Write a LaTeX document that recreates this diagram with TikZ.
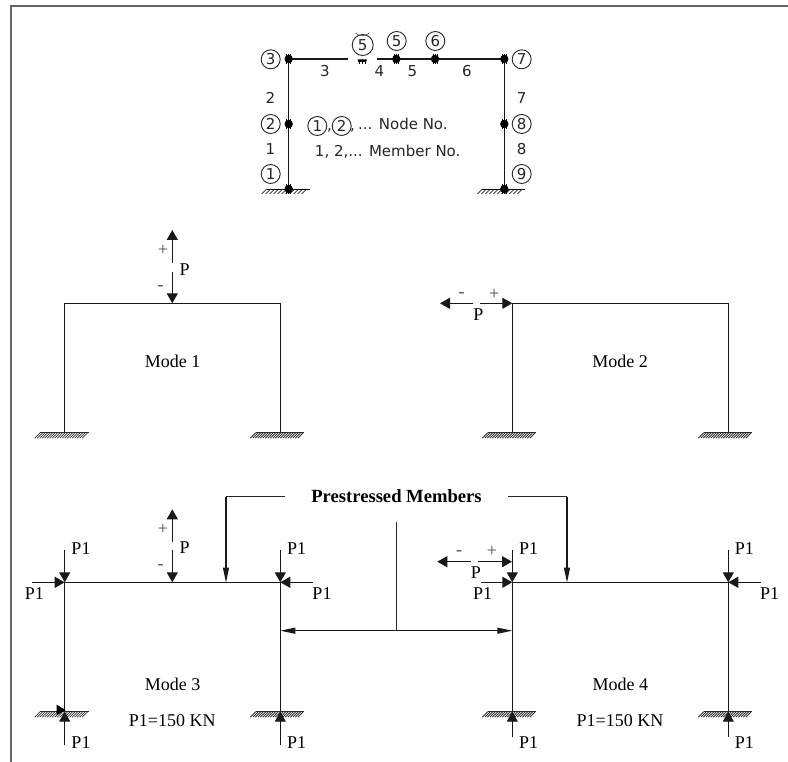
\documentclass[tikz,border=0pt]{standalone}
\usepackage{fontspec}
\setmainfont{Liberation Serif}
\newfontfamily\vfont{DejaVu Sans}
\usetikzlibrary{arrows.meta,calc}
\tikzset{
  member/.style={line width=1.2pt,black!90},
  border/.style={line width=1.6pt,black!60},
  force/.style={line width=1.2pt,black!90,-{Triangle[length=10pt,width=11pt]}},
  lead/.style={line width=1.1pt,black!85},
  thinarrow/.style={line width=1.1pt,black!90,-{Triangle[length=15pt,width=6pt]}},
  serif/.style={inner sep=0pt,font=\fontsize{18}{20}\selectfont},
  signlbl/.style={inner sep=0pt,font=\fontsize{18}{20}\selectfont,black!70},
  sans/.style={inner sep=0pt,font=\vfont\fontsize{15}{17}\selectfont,black!85},
  circ/.style={draw,circle,line width=.9pt,black!85,minimum size=19pt,inner sep=0pt,font=\vfont\fontsize{15}{17}\selectfont},
  jointdot/.style={fill=black,draw=none,circle,minimum size=8.4pt,inner sep=0pt}
}
% dense ground hatch below a column foot
\newcommand{\denseground}[1]{%
  \begin{scope}[shift={(#1)}]
    \draw[line width=.9pt,black!85] (-24.5,0) -- (24,0);
    \foreach \d in {-24.5,-22,...,24}{\draw[line width=.8pt,black!80] (\d,0) -- (\d-5.5,5.5);}
  \end{scope}}
% sparse ground hatch for the numbered frame
\newcommand{\sparseground}[1]{%
  \begin{scope}[shift={(#1)}]
    \draw[line width=.9pt] (-22,0) -- (21,0);
    \foreach \d in {-22,-18,...,21}{\draw[line width=.7pt,black!85] (\d,0) -- (\d-5,5);}
  \end{scope}}
% portal frame: name, left x, right x, top y, bottom y
\newcommand{\portal}[5]{%
  \coordinate (#1tl) at (#2,#4);
  \coordinate (#1tr) at (#3,#4);
  \coordinate (#1bl) at (#2,#5);
  \coordinate (#1br) at (#3,#5);
  \draw[member] (#1bl) -- (#1tl) -- (#1tr) -- (#1br);
  \denseground{#1bl}
  \denseground{#1br}}
% prestress forces: frame name, left and right reach, lower reach
\newcommand{\prestress}[4]{%
  \coordinate (#1a) at ($(#1tl)+(0,-32.3)$);
  \coordinate (#1b) at ($(#1tr)+(0,-32.3)$);
  \coordinate (#1c) at ($(#1tl)+(#2,0)$);
  \coordinate (#1d) at ($(#1tr)+(#3,0)$);
  \coordinate (#1e) at ($(#1bl)+(0,#4)$);
  \coordinate (#1f) at ($(#1br)+(0,#4)$);
  \draw[force] (#1a) -- (#1tl);
  \draw[force] (#1b) -- (#1tr);
  \draw[force] (#1c) -- (#1tl);
  \draw[force] (#1d) -- (#1tr);
  \draw[force] (#1e) -- (#1bl);
  \draw[force] (#1f) -- (#1br);}
\begin{document}
\begin{tikzpicture}[x=1pt,y=-1pt]
\useasboundingbox (0,0) rectangle (788,762);
\fill[white] (0,0) rectangle (788,762);
% border
\coordinate (bA) at (11,762);
\coordinate (bB) at (11,6);
\coordinate (bC) at (788,6);
\draw[border] (bA) -- (bB) -- (bC);

% ===== numbered frame =====
\coordinate (n1) at (288.7,189);
\coordinate (n2) at (288.7,124);
\coordinate (n3) at (288.7,59);
\coordinate (n4a) at (348,59);
\coordinate (n4b) at (377,59);
\coordinate (n5) at (396.3,59);
\coordinate (n6) at (435,59);
\coordinate (n7) at (504.3,59);
\coordinate (n8) at (504.3,124);
\coordinate (n9) at (504.3,189);
\draw[member] (n1) -- (n2) -- (n3) -- (n4a);
\draw[member] (n4b) -- (n5) -- (n6) -- (n7) -- (n8) -- (n9);
\sparseground{n1}
\sparseground{n9}
\foreach \p in {n1,n2,n3,n5,n6,n7,n8,n9}{
  \node[jointdot] at (\p) {};
  \foreach \d in {-2,0,2}{
    \draw[line width=.5pt] ($(\p)+(\d,-5)$) -- ($(\p)+(\d,5)$);}
}
% cut-off joint
\fill (357.5,59.5) -- (367,59.5) -- (366,62) -- (358.5,62) -- cycle;
\foreach \d in {359.5,362.2,365}{\draw[line width=.5pt] (\d,60) -- (\d,64.5);}

\node[circ] (c3) at (270.7,59.3) {3};
\node[circ] (c2) at (270.7,124) {2};
\node[circ] (c1) at (270.7,174) {1};
\node[circ] (c7) at (521.7,59.3) {7};
\node[circ] (c8) at (521.7,124) {8};
\node[circ] (c9) at (521.7,174) {9};
\node[circ,minimum size=21pt] (c5x) at (362.7,45) {5};
\draw[line width=.6pt,black!70] (355.5,33) arc[start angle=135,end angle=45,radius=9.5];
\node[circ] (c5) at (396.7,41) {5};
\node[circ] (c6) at (435.3,41) {6};
\node[circ] (lg1) at (317.3,126) {1};
\node[circ] (lg2) at (341.7,126) {2};
\node[sans] (lgc1) at (329.6,130) {,};
\node[sans] (lgc) at (352.6,130) {,};
\node[sans,anchor=west] (lgt) at (358,124) {... Node No.};
\node[sans] (lgm) at (387.7,152) {1, 2,... Member No.};
\node[sans] (m3) at (325,70.7) {3};
\node[sans] (m4) at (379.3,70.7) {4};
\node[sans] (m5) at (412.3,70.7) {5};
\node[sans] (m6) at (467,70.7) {6};
\node[sans] (m2) at (270.3,97.7) {2};
\node[sans] (m1) at (270.3,149) {1};
\node[sans] (m7) at (521.7,97.7) {7};
\node[sans] (m8) at (521.7,149) {8};

% ===== Mode 1 =====
\portal{A}{64.7}{280.3}{303.3}{432.7}
\coordinate (Am) at (172.3,303.3);
\coordinate (Au) at (172.3,263.3);
\coordinate (Aut) at (172.3,230);
\coordinate (Ad) at (172.3,271.7);
\draw[force] (Au) -- (Aut);
\draw[force] (Ad) -- (Am);
\node[signlbl] (Aplus) at (163,250.7) {+};
\node[signlbl] (Aminus) at (160.7,287.7) {-};
\node[serif] (AP) at (184.7,270) {P};
\node[serif] (Alab) at (172.7,361) {Mode 1};

% ===== Mode 2 =====
\portal{B}{512.3}{728.3}{303.3}{432.7}
\coordinate (Bl) at (473.3,303.3);
\coordinate (Blt) at (440,303.3);
\coordinate (Br) at (480,303.3);
\draw[force] (Bl) -- (Blt);
\draw[force] (Br) -- (Btl);
\node[signlbl] (Bminus) at (461.7,295) {-};
\node[signlbl] (Bplus) at (494.3,294) {+};
\node[serif] (BP) at (478.3,315) {P};
\node[serif] (Blab) at (620,361) {Mode 2};

% ===== Mode 3 =====
\portal{C}{64.7}{280.3}{582.3}{711.7}
\prestress{C}{-32.4}{33}{33.3}
\fill[black] (65.5,710) -- (56.5,704.5) -- (56.5,715.5) -- cycle;
\coordinate (Cm) at (172.3,582.3);
\coordinate (Cu) at (172.3,542.3);
\coordinate (Cut) at (172.3,509.3);
\coordinate (Cd) at (172.3,550);
\draw[force] (Cu) -- (Cut);
\draw[force] (Cd) -- (Cm);
\node[signlbl] (Cplus) at (163,529) {+};
\node[signlbl] (Cminus) at (160.7,566.7) {-};
\node[serif] (CP) at (184.7,548) {P};
\node[serif] (CP1a) at (81,549) {P1};
\node[serif] (CP1b) at (34.3,594) {P1};
\node[serif] (CP1c) at (296.7,549) {P1};
\node[serif] (CP1d) at (322,594) {P1};
\node[serif] (CP1e) at (81,743) {P1};
\node[serif] (CP1f) at (296.7,743) {P1};
\node[serif] (Clab) at (172.7,684) {Mode 3};
\node[serif] (Cval) at (172.3,721) {P1=150 KN};

% ===== Mode 4 =====
\portal{D}{512.3}{728.3}{582.3}{711.7}
\prestress{D}{-31.6}{32.4}{25}
\coordinate (Dl) at (471.3,561.7);
\coordinate (Dlt) at (437.3,561.7);
\coordinate (Dr) at (478,561.7);
\coordinate (Drt) at (512,561.7);
\draw[force] (Dl) -- (Dlt);
\draw[force] (Dr) -- (Drt);
\node[signlbl] (Dminus) at (459,553) {-};
\node[signlbl] (Dplus) at (492,551.7) {+};
\node[serif] (DP) at (476,573) {P};
\node[serif] (DP1a) at (528.7,549) {P1};
\node[serif] (DP1b) at (482.7,594) {P1};
\node[serif] (DP1c) at (744.3,549) {P1};
\node[serif] (DP1d) at (769.7,594) {P1};
\node[serif] (DP1e) at (528.7,743) {P1};
\node[serif] (DP1f) at (744.3,743) {P1};
\node[serif] (Dlab) at (620.3,684) {Mode 4};
\node[serif] (Dval) at (620,721) {P1=150 KN};

% ===== Prestressed members leader =====
\node[inner sep=0pt,font=\bfseries\fontsize{18.6}{20}\selectfont] (ps) at (396.5,496) {Prestressed Members};
\coordinate (Lst) at (285,496.7);
\coordinate (Lel) at (226,496.7);
\coordinate (Ltp) at (226,582.6);
\coordinate (Rst) at (508,496.7);
\coordinate (Rel) at (567,496.7);
\coordinate (Rtp) at (567,582.6);
\draw[lead] (Lst) -- (Lel);
\draw[thinarrow] (Lel) -- (Ltp);
\draw[lead] (Rst) -- (Rel);
\draw[thinarrow] (Rel) -- (Rtp);
\coordinate (Vt) at (396.3,522);
\coordinate (Vb) at (396.3,630.7);
\coordinate (Hl) at (280.3,630.7);
\coordinate (Hr) at (512.3,630.7);
\draw[lead] (Vt) -- (Vb);
\draw[thinarrow] (Vb) -- (Hl);
\draw[thinarrow] (Vb) -- (Hr);
\end{tikzpicture}
\end{document}
